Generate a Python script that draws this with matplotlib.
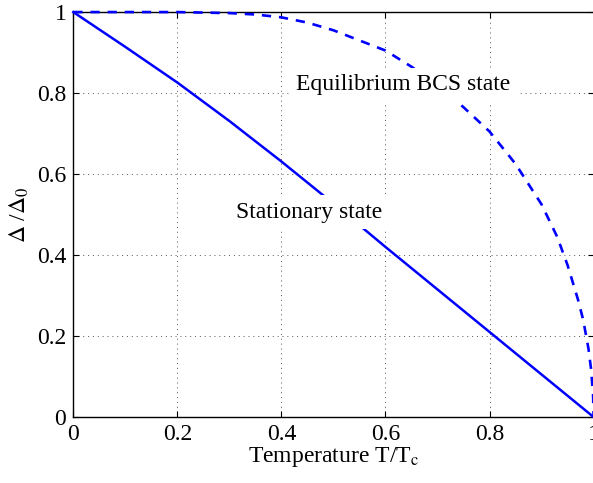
import matplotlib
matplotlib.use("Agg")
import matplotlib.pyplot as plt

# reduced temperature and gap values
t_stat = [0.0, 0.1, 0.2, 0.3, 0.4, 0.5, 0.6, 0.7, 0.8, 0.9, 1.0]
gap_stat = [1.0, 0.914, 0.826, 0.731, 0.631, 0.527, 0.42, 0.315, 0.21, 0.105, 0.0]

t_bcs = [0.0, 0.1, 0.2, 0.3, 0.35, 0.4, 0.45, 0.5, 0.55, 0.6, 0.65, 0.7,
         0.75, 0.8, 0.85, 0.9, 0.93, 0.95, 0.97, 0.98, 0.99, 0.995, 0.999, 1.0]
gap_bcs = [1.0, 1.0, 1.0, 0.9975, 0.994, 0.987, 0.974, 0.955, 0.93, 0.905,
           0.865, 0.82, 0.765, 0.705, 0.625, 0.525, 0.445, 0.375, 0.29,
           0.24, 0.17, 0.12, 0.055, 0.0]

xticks = [0, 0.2, 0.4, 0.6, 0.8, 1]
xticklabels = ['0', '0.2', '0.4', '0.6', '0.8', '1']
yticks = [0, 0.2, 0.4, 0.6, 0.8, 1]
yticklabels = ['0', '0.2', '0.4', '0.6', '0.8', '1']

plt.rcParams['font.family'] = 'Liberation Serif'
plt.rcParams['mathtext.fontset'] = 'stix'

fig = plt.figure(figsize=(5.93, 4.83), dpi=100)
ax = fig.add_axes([0.1236, 0.1366, 0.8774, 0.8384])

ax.plot(t_stat, gap_stat, color='blue', lw=1.8, clip_on=False, zorder=3)
ax.plot(t_bcs, gap_bcs, color='blue', lw=1.9, linestyle=(0, (3.5, 3)),
        clip_on=False, zorder=3)

box = dict(facecolor='white', edgecolor='none', pad=5)
ax.text(0.634, 0.82, 'Equilibrium BCS state', fontsize=17, ha='center',
        va='center', bbox=box, zorder=4)
ax.text(0.454, 0.506, 'Stationary state', fontsize=17, ha='center',
        va='center', bbox=box, zorder=4)

ax.set_xlim(0, 1)
ax.set_ylim(0, 1)
ax.set_xticks(xticks)
ax.set_xticklabels(xticklabels)
ax.set_yticks(yticks)
ax.set_yticklabels(yticklabels)
ax.tick_params(direction='in', length=4, width=0.8, labelsize=17,
               top=True, right=True, pad=5)
ax.grid(True, linestyle=(0, (1, 4)), color='#555555', linewidth=0.7)

for s in ax.spines.values():
    s.set_linewidth(1.0)

ax.set_xlabel('Temperature T/T$_\\mathrm{c}$', fontsize=17, labelpad=0)
ax.set_ylabel('$\\Delta$ /$\\Delta_0$', fontsize=17, labelpad=4)

fig.savefig('out.png', dpi=100)
